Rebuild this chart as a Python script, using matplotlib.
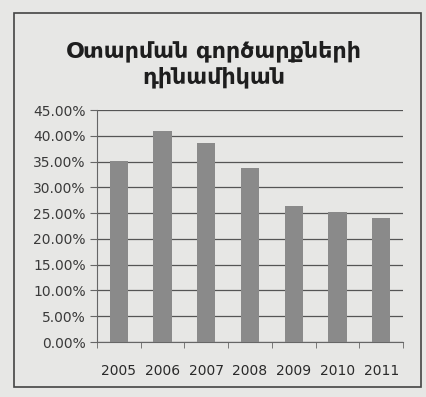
import matplotlib
matplotlib.use("Agg")
import matplotlib.pyplot as plt
import numpy as np
from matplotlib.patches import Rectangle
from matplotlib.ticker import FuncFormatter

years = ["2005", "2006", "2007", "2008", "2009", "2010", "2011"]
shares = [35.2, 41.0, 38.7, 33.8, 26.4, 25.3, 24.0]
title = "Օտարման գործարքների\nդինամիկան"

bg = "#e7e7e5"
fig = plt.figure(figsize=(4.27, 3.97), dpi=100, facecolor=bg)
ax = fig.add_axes([0.227, 0.1385, 0.717, 0.584])
ax.set_facecolor(bg)

x = np.arange(len(years))
ax.bar(x, shares, width=0.42, color="#8a8a8a", zorder=3)

ax.set_xlim(-0.5, len(years) - 0.5)
ax.set_ylim(0, 45)
ax.set_yticks(np.arange(0, 46, 5))
ax.yaxis.set_major_formatter(FuncFormatter(lambda v, p: f"{v:.2f}%"))
ax.grid(axis="y", color="#555555", linewidth=0.9, zorder=1)

ax.set_xticks(x)
ax.set_xticklabels(years)
ax.set_xticks(np.arange(-0.5, len(years)), minor=True)
ax.tick_params(axis="x", which="major", length=0, pad=16, labelsize=10, labelcolor="#2a2a2a")
ax.tick_params(axis="x", which="minor", length=4, color="#666666")
ax.tick_params(axis="y", length=5, color="#666666", labelsize=10, labelcolor="#3a3a3a", pad=3)

for s in ["top", "right"]:
    ax.spines[s].set_visible(False)
ax.spines["left"].set_color("#666666")
ax.spines["bottom"].set_color("#666666")

fig.text(0.5, 0.838, title, ha="center", va="center", fontsize=16,
         fontweight="bold", color="#1e1e1e", linespacing=1.3)

fig.patches.append(Rectangle((14 / 427, 1 - 387 / 397), 407 / 427, 374 / 397,
                             transform=fig.transFigure, fill=False,
                             edgecolor="#444444", linewidth=1.2))

fig.savefig("out.png", dpi=100, facecolor=bg)
